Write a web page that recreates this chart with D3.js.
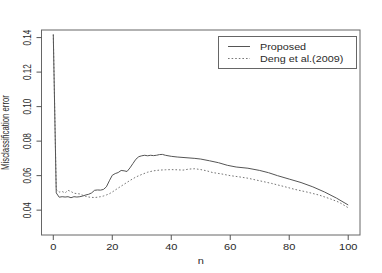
<!DOCTYPE html>
<html lang="en">
<head>
  <meta charset="UTF-8" />
  <title>Misclassification error vs n</title>
  <style>
    body { margin: 0; background: #ffffff; }
    svg { display: block; }
    text { font-family: "Liberation Sans", Arial, sans-serif; fill: #2a2a2a; }
    .tick { stroke: #555; stroke-width: 1px; }
    .box { fill: none; stroke: #666; stroke-width: 1px; }
  </style>
  <script src="https://d3js.org/d3.v7.min.js"></script>
</head>
<body>
  <svg id="canvas" width="382" height="273"></svg>
  <script>
    // data
    const proposedN = [0, 1, 2, 3, 4, 5, 6, 7, 8, 9, 10, 11, 12, 13, 14, 15, 16, 17, 18, 19, 20, 21, 22, 23, 24, 25, 26, 27, 28, 29, 30, 31, 32, 33, 34, 35, 36, 37, 38, 40, 42, 45, 48, 50, 53, 56, 59, 62, 66, 70, 73, 76, 80, 84, 88, 92, 96, 100];
    const proposedErr = [0.1418, 0.0500, 0.0475, 0.0478, 0.0476, 0.0478, 0.0472, 0.0478, 0.0476, 0.0478, 0.0482, 0.0488, 0.0492, 0.0500, 0.0515, 0.0517, 0.0516, 0.0520, 0.0535, 0.0570, 0.0602, 0.0612, 0.0618, 0.0630, 0.0628, 0.0624, 0.0645, 0.0670, 0.0695, 0.0710, 0.0715, 0.0718, 0.0715, 0.0718, 0.0716, 0.0718, 0.0722, 0.0723, 0.0718, 0.0712, 0.0708, 0.0704, 0.0700, 0.0696, 0.0686, 0.0675, 0.0660, 0.0650, 0.0643, 0.0630, 0.0617, 0.0600, 0.0580, 0.0560, 0.0535, 0.0505, 0.0470, 0.0430];
    const dengN = [0, 1, 2, 3, 4, 5, 6, 7, 8, 9, 10, 11, 12, 13, 14, 15, 16, 17, 18, 19, 20, 22, 24, 26, 28, 30, 32, 34, 36, 38, 40, 42, 44, 46, 48, 50, 52, 54, 57, 60, 63, 66, 70, 74, 78, 82, 86, 90, 94, 97, 100];
    const dengErr = [0.1418, 0.0520, 0.0505, 0.0508, 0.0500, 0.0515, 0.0508, 0.0498, 0.0496, 0.0494, 0.0486, 0.0480, 0.0476, 0.0474, 0.0473, 0.0475, 0.0478, 0.0482, 0.0488, 0.0495, 0.0505, 0.0528, 0.0550, 0.0572, 0.0592, 0.0607, 0.0620, 0.0628, 0.0632, 0.0634, 0.0635, 0.0634, 0.0632, 0.0638, 0.0640, 0.0635, 0.0628, 0.0618, 0.0610, 0.0600, 0.0593, 0.0585, 0.0570, 0.0555, 0.0538, 0.0520, 0.0505, 0.0488, 0.0465, 0.0445, 0.0414];
    const xTicks = [0, 20, 40, 60, 80, 100];
    const yTicks = [0.04, 0.06, 0.08, 0.10, 0.12, 0.14];
    const legendLabels = ["Proposed", "Deng et al.(2009)"];

    const svg = d3.select("#canvas");
    const mLeft = 41.5, mRight = 360, mTop = 30, mBottom = 235;
    const sx = 1.3; // text in the source is stretched sideways

    const x = d3.scaleLinear().domain([-4, 104]).range([mLeft, mRight]);
    const y = d3.scaleLinear().domain([0.0256, 0.1444]).range([mBottom, mTop]);

    const line = d3.line().x(d => x(d[0])).y(d => y(d[1]));

    svg.append("path")
      .datum(dengN.map((n, i) => [n, dengErr[i]]))
      .attr("d", line)
      .attr("fill", "none")
      .attr("stroke", "#777")
      .attr("stroke-width", 1)
      .attr("stroke-dasharray", "1.6,2");

    svg.append("path")
      .datum(proposedN.map((n, i) => [n, proposedErr[i]]))
      .attr("d", line)
      .attr("fill", "none")
      .attr("stroke", "#555")
      .attr("stroke-width", 1);

    // plot box
    svg.append("rect")
      .attr("class", "box")
      .attr("x", mLeft).attr("y", mTop)
      .attr("width", mRight - mLeft).attr("height", mBottom - mTop);

    // x axis
    xTicks.forEach(t => {
      svg.append("line").attr("class", "tick")
        .attr("x1", x(t)).attr("x2", x(t))
        .attr("y1", mBottom).attr("y2", mBottom + 5);
      svg.append("text")
        .attr("transform", `translate(${x(t)},249.5) scale(${sx},1)`)
        .attr("text-anchor", "middle")
        .attr("font-size", 8.5)
        .text(t);
    });
    svg.append("text")
      .attr("transform", `translate(${(mLeft + mRight) / 2},264) scale(${sx},1)`)
      .attr("text-anchor", "middle")
      .attr("font-size", 8.5)
      .text("n");

    // y axis
    yTicks.forEach(t => {
      svg.append("line").attr("class", "tick")
        .attr("x1", mLeft).attr("x2", mLeft - 5)
        .attr("y1", y(t)).attr("y2", y(t));
      svg.append("text")
        .attr("transform", `translate(30.5,${y(t)}) scale(${sx},1) rotate(-90)`)
        .attr("text-anchor", "middle")
        .attr("font-size", 8.2)
        .text(t.toFixed(2));
    });
    svg.append("text")
      .attr("transform", `translate(8.5,${(mTop + mBottom) / 2}) scale(${sx},1) rotate(-90)`)
      .attr("text-anchor", "middle")
      .attr("font-size", 7.8)
      .text("Misclassification error");

    // legend
    const lg = svg.append("g");
    lg.append("rect")
      .attr("x", 218.5).attr("y", 36.5)
      .attr("width", 138).attr("height", 32)
      .attr("fill", "#fff").attr("stroke", "#666");
    legendLabels.forEach((lab, i) => {
      const ly = 46.5 + i * 12;
      lg.append("line")
        .attr("x1", 228).attr("x2", 250)
        .attr("y1", ly).attr("y2", ly)
        .attr("stroke", i === 0 ? "#555" : "#777")
        .attr("stroke-dasharray", i === 0 ? null : "1.6,2");
      lg.append("text")
        .attr("transform", `translate(260,${ly + 3}) scale(${sx},1)`)
        .attr("font-size", 8.3)
        .text(lab);
    });
  </script>
</body>
</html>
